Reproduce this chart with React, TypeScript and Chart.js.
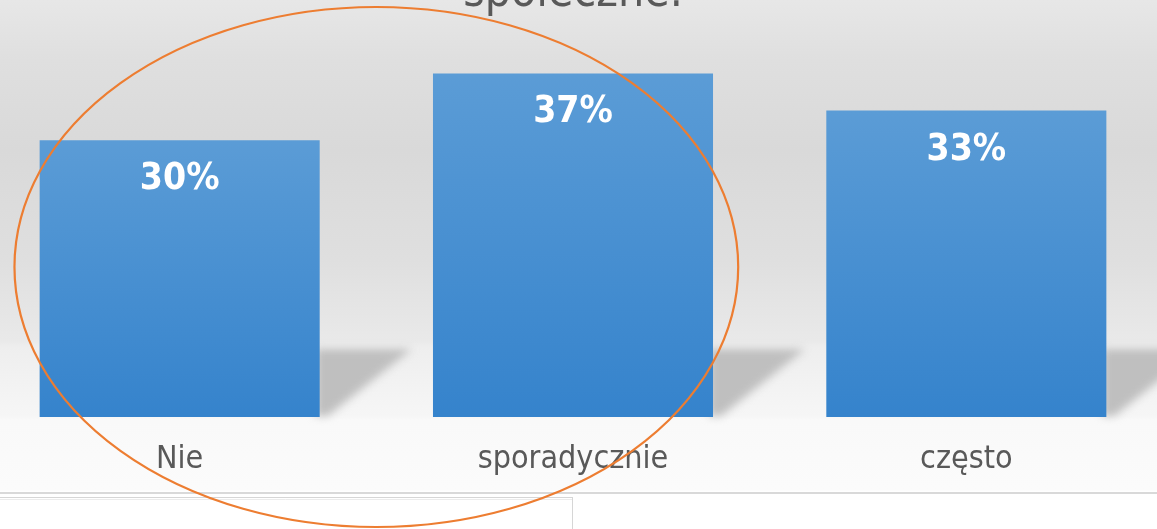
import React, { useEffect, useRef } from "react";
import { Chart, registerables } from "chart.js";

Chart.register(...registerables);

// ---- data ----
const categories = ["Nie", "sporadycznie", "często"];
const values = [29.8, 37.0, 33.0];
const valueLabels = ["30%", "37%", "33%"];
const titleLines = ["społeczne."];
const yMin = 0;
const yMax = 42;

// ---- style ----
const FONT = "'DejaVu Sans Condensed', 'DejaVu Sans', sans-serif";
const TEXT_GREY = "#595959";
const OFFSET_X = -17;
const OFFSET_Y = -40;
const CANVAS_W = 1180;
const CANVAS_H = 569;

const backgroundPlugin = {
  id: "bgPlugin",
  beforeDraw(chart: any) {
    const { ctx, width, height } = chart;
    const g = ctx.createLinearGradient(0, 0, 0, height);
    const stop = (pageY: number, c: string) =>
      g.addColorStop(Math.min(1, Math.max(0, (pageY - OFFSET_Y) / height)), c);
    stop(-40, "#eaeaea");
    stop(0, "#e7e7e7");
    stop(60, "#dfdfdf");
    stop(150, "#d9d9d9");
    stop(260, "#dfdfdf");
    stop(340, "#e9e9e9");
    stop(347, "#eeeeee");
    stop(416, "#f6f6f6");
    stop(420, "#f9f9f9");
    stop(490, "#fbfbfb");
    stop(491, "#ffffff");
    stop(529, "#ffffff");
    ctx.save();
    ctx.fillStyle = g;
    ctx.fillRect(0, 0, width, height);
    // separator line and bottom box
    ctx.fillStyle = "#d9d9d9";
    ctx.fillRect(0, 492 - OFFSET_Y, width, 2);
    ctx.strokeStyle = "#d6d6d6";
    ctx.lineWidth = 1;
    ctx.strokeRect(-1 - OFFSET_X + 0.5, 497 - OFFSET_Y + 0.5, 573, 60);
    ctx.strokeStyle = "#ececec";
    ctx.beginPath();
    ctx.moveTo(-1 - OFFSET_X, 499 - OFFSET_Y + 0.5);
    ctx.lineTo(572 - OFFSET_X, 499 - OFFSET_Y + 0.5);
    ctx.stroke();
    ctx.restore();
  },
};

const shadowPlugin = {
  id: "shadowPlugin",
  beforeDatasetsDraw(chart: any) {
    const { ctx } = chart;
    const meta = chart.getDatasetMeta(0);
    ctx.save();
    ctx.filter = "blur(4px)";
    ctx.fillStyle = "#bfbfbf";
    meta.data.forEach((el: any) => {
      const R = el.x + el.width / 2;
      const B = el.base;
      ctx.beginPath();
      ctx.moveTo(R - 4, B - 68);
      ctx.lineTo(R + 92, B - 68);
      ctx.lineTo(R + 8, B - 1);
      ctx.lineTo(R - 4, B - 1);
      ctx.closePath();
      ctx.fill();
    });
    ctx.restore();
  },
};

const labelPlugin = {
  id: "labelPlugin",
  afterDatasetsDraw(chart: any) {
    const { ctx } = chart;
    const meta = chart.getDatasetMeta(0);
    ctx.save();
    ctx.font = `bold 37px ${FONT}`;
    ctx.fillStyle = "#ffffff";
    ctx.textAlign = "center";
    ctx.textBaseline = "alphabetic";
    meta.data.forEach((el: any, i: number) => {
      ctx.fillText(valueLabels[i], el.x, el.y + 49);
    });
    ctx.restore();
  },
};

const ellipsePlugin = {
  id: "ellipsePlugin",
  afterDraw(chart: any) {
    const { ctx, chartArea } = chart;
    const meta = chart.getDatasetMeta(0);
    const a = meta.data[0];
    const b = meta.data[1];
    if (!a || !b) return;
    const cx = (a.x + b.x) / 2;
    const cy = chartArea.bottom - 150;
    const rx = (b.x - a.x) * 0.92;
    const ry = 260;
    ctx.save();
    ctx.strokeStyle = "#ED7D31";
    ctx.lineWidth = 2.2;
    ctx.beginPath();
    ctx.ellipse(cx, cy, rx, ry, 0, 0, Math.PI * 2);
    ctx.stroke();
    ctx.restore();
  },
};

export default function App() {
  const canvasRef = useRef<HTMLCanvasElement | null>(null);

  useEffect(() => {
    if (!canvasRef.current) return;
    const chart = new Chart(canvasRef.current, {
      type: "bar",
      data: {
        labels: categories,
        datasets: [
          {
            data: values,
            backgroundColor: (c: any) => {
              const ch = c.chart;
              const ys = ch.scales && ch.scales.y;
              if (!ys || c.raw == null) return "#4a90d0";
              const top = ys.getPixelForValue(c.raw);
              const bottom = ys.getPixelForValue(0);
              if (!isFinite(top) || !isFinite(bottom)) return "#4a90d0";
              const g = ch.ctx.createLinearGradient(0, top, 0, bottom);
              g.addColorStop(0, "#5b9cd6");
              g.addColorStop(1, "#3583cc");
              return g;
            },
            borderWidth: 0,
            barPercentage: 0.712,
            categoryPercentage: 1,
          },
        ],
      },
      options: {
        responsive: false,
        animation: false,
        devicePixelRatio: 1,
        layout: { padding: { left: 0, right: 0, top: 0, bottom: 34 } },
        plugins: {
          legend: { display: false },
          tooltip: { enabled: false },
          title: {
            display: true,
            text: titleLines,
            color: TEXT_GREY,
            font: { family: FONT, size: 46, weight: "normal" },
            padding: { top: 6.4, bottom: 5.4 },
          },
        },
        scales: {
          x: {
            grid: { display: false },
            border: { display: false },
            ticks: {
              color: TEXT_GREY,
              font: { family: FONT, size: 32 },
              padding: 15.8,
              maxRotation: 0,
              autoSkip: false,
            },
          },
          y: {
            display: false,
            min: yMin,
            max: yMax,
          },
        },
      },
      plugins: [backgroundPlugin, shadowPlugin, labelPlugin, ellipsePlugin],
    } as any);
    return () => chart.destroy();
  }, []);

  return (
    <div
      style={{
        position: "fixed",
        left: 0,
        top: 0,
        width: 1157,
        height: 529,
        overflow: "hidden",
        background: "#ffffff",
      }}
    >
      <canvas
        ref={canvasRef}
        width={CANVAS_W}
        height={CANVAS_H}
        style={{
          position: "absolute",
          left: OFFSET_X,
          top: OFFSET_Y,
          width: CANVAS_W,
          height: CANVAS_H,
        }}
      />
    </div>
  );
}
